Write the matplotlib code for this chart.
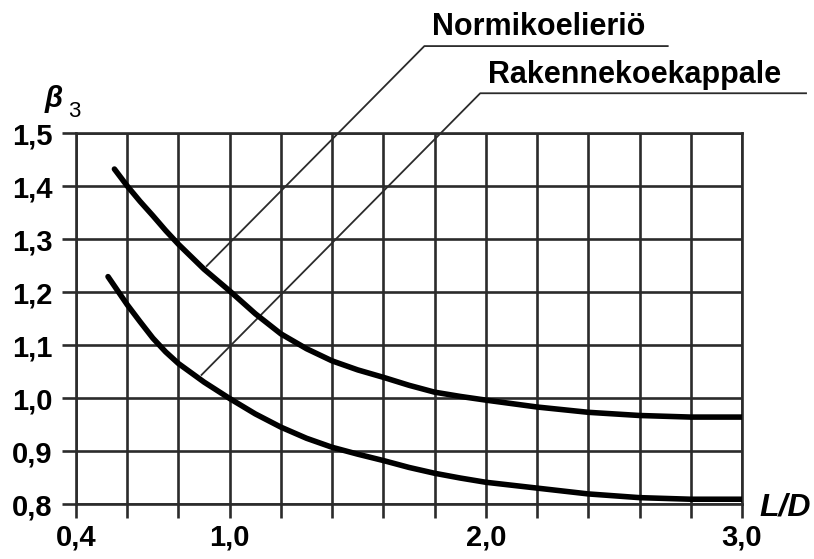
import numpy as np
import matplotlib
matplotlib.use("Agg")
import matplotlib.pyplot as plt

# Length/diameter ratio and the correction factor beta_3 for both specimen types
ld_norm = [0.55, 0.6, 0.65, 0.7, 0.75, 0.8, 0.9, 1.0, 1.1, 1.2, 1.3, 1.4, 1.5, 1.6, 1.7,
           1.8, 1.9, 2.0, 2.2, 2.4, 2.6, 2.8, 3.0]
beta_norm = [1.432, 1.400, 1.371, 1.344, 1.316, 1.290, 1.243, 1.202, 1.159, 1.121,
             1.093, 1.070, 1.053, 1.039, 1.024, 1.011, 1.003, 0.996, 0.983, 0.973,
             0.967, 0.964, 0.964]
ld_rak = [0.525, 0.6, 0.65, 0.7, 0.75, 0.8, 0.9, 1.0, 1.1, 1.2, 1.3, 1.4, 1.5, 1.6, 1.7,
          1.8, 1.9, 2.0, 2.2, 2.4, 2.6, 2.8, 3.0]
beta_rak = [1.229, 1.176, 1.144, 1.113, 1.087, 1.065, 1.030, 0.999, 0.970, 0.945,
            0.924, 0.907, 0.894, 0.882, 0.869, 0.858, 0.849, 0.841, 0.830, 0.819,
            0.812, 0.809, 0.809]

x_ticks = [0.4, 1.0, 2.0, 3.0]
x_ticklabels = ["0,4", "1,0", "2,0", "3,0"]
y_ticks = [0.8, 0.9, 1.0, 1.1, 1.2, 1.3, 1.4, 1.5]
y_ticklabels = ["0,8", "0,9", "1,0", "1,1", "1,2", "1,3", "1,4", "1,5"]

FONT = "Liberation Sans"
GRID = "#2b2b2b"

fig = plt.figure(figsize=(8.14, 5.59), dpi=100)
ax = fig.add_axes([76 / 814, 1 - 504 / 559, 666 / 814, 371 / 559])
ax.set_xlim(0.4, 3.0)
ax.set_ylim(0.8, 1.5)

# grid: every 0.2 in L/D and every 0.1 in beta
ax.set_xticks(np.arange(0.4, 3.01, 0.2), minor=True)
ax.set_xticks(x_ticks)
ax.set_xticklabels(x_ticklabels)
ax.set_yticks(y_ticks)
ax.set_yticklabels(y_ticklabels)
ax.grid(True, which="both", color=GRID, lw=1.9)
for s in ax.spines.values():
    s.set_color(GRID)
    s.set_linewidth(1.9)
ax.tick_params(which="both", direction="out", length=10, width=1.9, color=GRID)
ax.tick_params(axis="x", pad=4)
ax.tick_params(axis="y", pad=7)
for lab in ax.get_xticklabels() + ax.get_yticklabels():
    lab.set_fontfamily(FONT)
    lab.set_fontweight("bold")
    lab.set_fontsize(21)
ax.set_axisbelow(True)

# curves
ax.plot(ld_norm, beta_norm, color="black", lw=4.0, solid_capstyle="round",
        solid_joinstyle="round", zorder=4)
ax.plot(ld_rak, beta_rak, color="black", lw=4.0, solid_capstyle="round",
        solid_joinstyle="round", zorder=4)

# leader lines from each curve to its label
x0 = 0.91
y0 = float(np.interp(x0, ld_norm, beta_norm)) + 0.01
ax.plot([x0, 1.76, 2.71], [y0, 1.664, 1.664], color=GRID, lw=1.3,
        clip_on=False, zorder=3)
ax.text(1.79, 1.685, "Normikoelieriö", fontfamily=FONT, fontweight="bold",
        fontsize=22, va="baseline", ha="left", clip_on=False)

x1 = 0.89
y1 = float(np.interp(x1, ld_rak, beta_rak)) + 0.01
ax.plot([x1, 1.978, 3.25], [y1, 1.575, 1.575], color=GRID, lw=1.3,
        clip_on=False, zorder=3)
ax.text(2.01, 1.594, "Rakennekoekappale", fontfamily=FONT, fontweight="bold",
        fontsize=22, va="baseline", ha="left", clip_on=False)

# axis titles
fig.text(45 / 814, 1 - 107 / 559, "β", fontfamily=FONT, fontweight="bold",
         fontstyle="italic", fontsize=21, va="baseline", ha="left")
fig.text(68 / 814, 1 - 117 / 559, "3", fontfamily=FONT, fontsize=16,
         va="baseline", ha="left")
fig.text(759 / 814, 1 - 515 / 559, "L/D", fontfamily=FONT, fontweight="bold",
         fontstyle="italic", fontsize=23, va="baseline", ha="left")

fig.savefig("out.png", dpi=100, facecolor="white")
